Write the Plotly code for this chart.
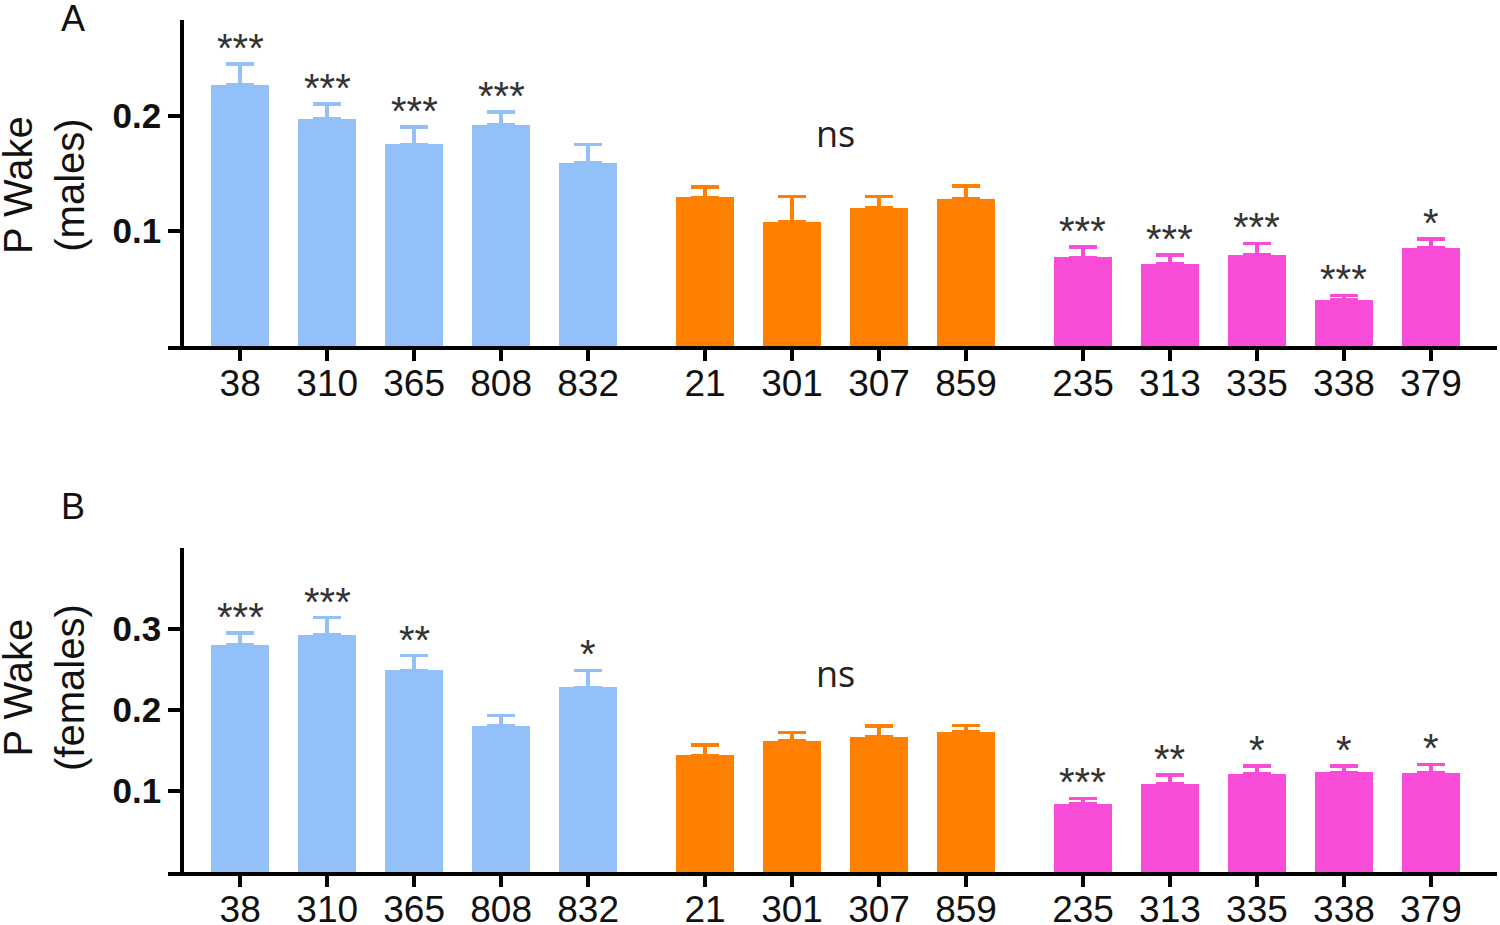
import plotly.graph_objects as go

# strain labels, split into three groups
lines = ["38", "310", "365", "808", "832",
         "21", "301", "307", "859",
         "235", "313", "335", "338", "379"]
group_of = [0, 0, 0, 0, 0, 1, 1, 1, 1, 2, 2, 2, 2, 2]

# panel A: males
male_mean = [0.227, 0.197, 0.175, 0.192, 0.159,
             0.129, 0.108, 0.120, 0.128,
             0.077, 0.071, 0.079, 0.040, 0.085]
male_err = [0.018, 0.013, 0.015, 0.011, 0.016,
            0.009, 0.022, 0.010, 0.011,
            0.009, 0.008, 0.010, 0.004, 0.008]
male_sig = ["***", "***", "***", "***", "",
            "", "", "", "",
            "***", "***", "***", "***", "*"]

# panel B: females
female_mean = [0.280, 0.293, 0.249, 0.180, 0.228,
               0.144, 0.162, 0.167, 0.173,
               0.084, 0.109, 0.121, 0.123, 0.122]
female_err = [0.015, 0.021, 0.018, 0.013, 0.021,
              0.013, 0.010, 0.013, 0.008,
              0.007, 0.011, 0.010, 0.008, 0.011]
female_sig = ["***", "***", "**", "", "*",
              "", "", "", "",
              "***", "**", "*", "*", "*"]

group_colors = ["#93C0F8", "#FF8000", "#F84BD8"]
GAP = 0.345
xpos = [i + GAP * g for i, g in enumerate(group_of)]

FONT = "Liberation Sans, Arial, sans-serif"

# body margin is removed in post_script, so the figure fills the window
W, H = 1500, 925


def px_x(px):
    return px / W


def px_y(py):
    return 1 - py / H


fig = go.Figure()

panels = [
    (male_mean, male_err, male_sig, "x", "y"),
    (female_mean, female_err, female_sig, "x2", "y2"),
]

for mean, err, sig, xa, ya in panels:
    for g in range(3):
        idx = [i for i in range(len(lines)) if group_of[i] == g]
        fig.add_trace(go.Bar(
            x=[xpos[i] for i in idx], y=[mean[i] for i in idx],
            width=0.67, marker=dict(color=group_colors[g], line=dict(width=0)),
            error_y=dict(type="data", symmetric=False,
                         array=[err[i] for i in idx], arrayminus=[0] * len(idx),
                         color=group_colors[g], thickness=3.5, width=14),
            xaxis=xa, yaxis=ya, showlegend=False,
        ))
    # significance stars
    for i, s in enumerate(sig):
        if s:
            fig.add_annotation(x=xpos[i], y=mean[i] + err[i], xref=xa, yref=ya,
                               text=s, showarrow=False, yanchor="middle", yshift=16,
                               font=dict(size=40, color="#333333", family=FONT))
    # ns over the middle group
    mid = [xpos[i] for i in range(len(lines)) if group_of[i] == 1]
    top = max(mean[i] + err[i] for i in range(len(lines)) if group_of[i] == 1)
    fig.add_annotation(x=sum(mid) / len(mid), y=top, xref=xa, yref=ya,
                       text="ns", showarrow=False, yanchor="middle", yshift=52,
                       font=dict(size=36, color="#222222", family="Open Sans, sans-serif"))

xaxis_common = dict(
    range=[-0.83, 14.45], tickvals=xpos, ticktext=lines,
    showline=True, linecolor="black", linewidth=3.5,
    ticks="outside", ticklen=11, tickwidth=3.5, tickcolor="black",
    tickfont=dict(size=37, color="#111111", family=FONT),
    ticklabelstandoff=-9, automargin=False,
    showgrid=False, zeroline=False, fixedrange=True,
)
yaxis_common = dict(
    anchor="free", position=px_x(182), automargin=False,
    showline=True, linecolor="black", linewidth=3.5,
    ticks="outside", ticklen=12, tickwidth=3.5, tickcolor="black",
    tickfont=dict(size=35, color="#111111", family=FONT, weight="bold"),
    showgrid=False, zeroline=False,
)

fig.update_layout(
    width=W, height=H,
    margin=dict(l=0, r=0, t=0, b=0),
    paper_bgcolor="white", plot_bgcolor="white",
    bargap=0,
    xaxis=dict(xaxis_common, domain=[px_x(168), px_x(1497)], anchor="y"),
    yaxis=dict(yaxis_common, domain=[px_y(346), px_y(20)],
               range=[0, 0.283], tickvals=[0.1, 0.2], ticktext=["0.1", "0.2"]),
    xaxis2=dict(xaxis_common, domain=[px_x(168), px_x(1497)], anchor="y2"),
    yaxis2=dict(yaxis_common, domain=[px_y(872), px_y(548)],
                range=[0, 0.40], tickvals=[0.1, 0.2, 0.3], ticktext=["0.1", "0.2", "0.3"]),
)

# y titles and panel letters
for text, yc in [("P Wake<br>(males)", 185), ("P Wake<br>(females)", 688)]:
    fig.add_annotation(x=px_x(44), y=px_y(yc), xref="paper", yref="paper",
                       xanchor="center", yanchor="middle",
                       text=text, textangle=-90, showarrow=False,
                       font=dict(size=40, color="#111111", family=FONT))
for text, yc in [("A", 18), ("B", 507)]:
    fig.add_annotation(x=px_x(73), y=px_y(yc), xref="paper", yref="paper",
                       xanchor="center", yanchor="middle",
                       text=text, showarrow=False,
                       font=dict(size=36, color="#111111", family=FONT))

fig.write_html("out.html", config={"displayModeBar": False},
               post_script="document.body.style.margin='0px';")
